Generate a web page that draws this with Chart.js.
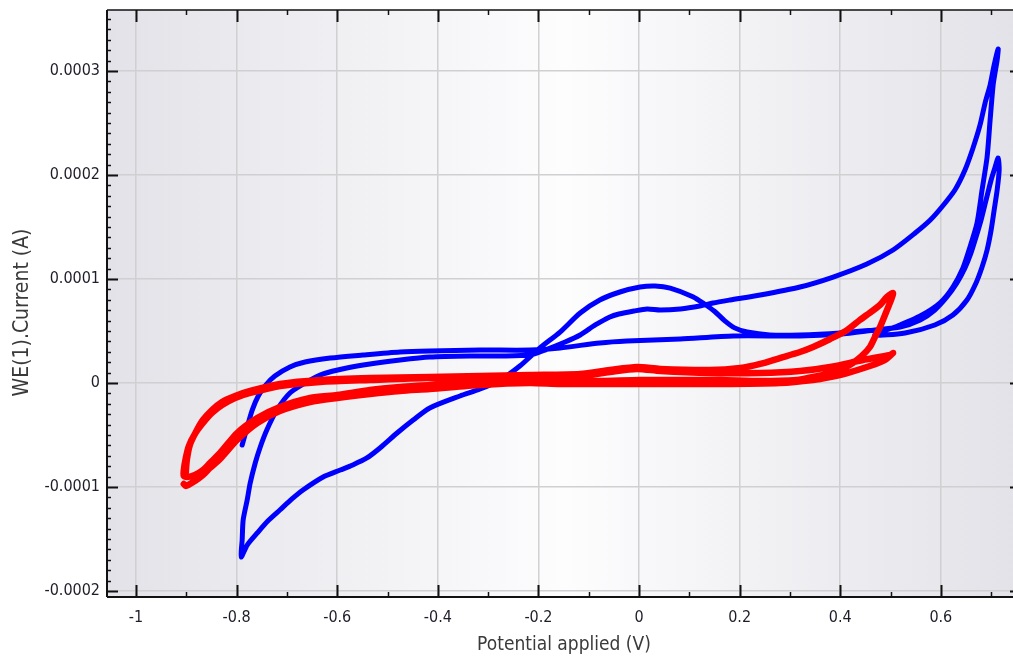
<!DOCTYPE html>
<html>
<head>
<meta charset="utf-8">
<script src="https://cdn.jsdelivr.net/npm/chart.js@4.4.1/dist/chart.umd.min.js"></script>
<style>
  html, body { margin: 0; padding: 0; background: #fff; overflow: hidden; }
  #wrap { position: absolute; left: 0; top: 0; width: 1030px; height: 662px; }
</style>
</head>
<body>
<div id="wrap"><canvas id="cv"></canvas></div>
<script>
// axis ticks
const xTicks = [-1, -0.8, -0.6, -0.4, -0.2, 0, 0.2, 0.4, 0.6];
const xTickLabels = ["-1", "-0.8", "-0.6", "-0.4", "-0.2", "0", "0.2", "0.4", "0.6"];
const yTicks = [-0.0002, -0.0001, 0, 0.0001, 0.0002, 0.0003];
const yTickLabels = ["-0.0002", "-0.0001", "0", "0.0001", "0.0002", "0.0003"];

// blue scan: potential (V) / current (A), in path order
const blueVoltage = [
  -0.789, -0.779, -0.769, -0.757, -0.742, -0.724, -0.694, -0.664, -0.614, -0.549, -0.475,
  -0.416, -0.316, -0.217, -0.157, -0.078, -0.024, 0.082, 0.187, 0.320, 0.400, 0.469,
  0.519, 0.559, 0.588, 0.612, 0.632, 0.648, 0.660, 0.670, 0.680, 0.690, 0.700, 0.708, 0.714,
  0.716, 0.712, 0.706, 0.700, 0.692, 0.682, 0.670, 0.652, 0.624, 0.588, 0.529, 0.469,
  0.519, 0.559, 0.598, 0.624, 0.644, 0.658, 0.672, 0.682, 0.692, 0.698, 0.704, 0.708, 0.712, 0.714,
  0.706, 0.698, 0.688, 0.678, 0.664, 0.648, 0.628, 0.602, 0.579, 0.549, 0.505, 0.453, 0.386,
  0.320, 0.241, 0.181, 0.147,
  0.121, 0.082, 0.042, 0.016, -0.010, -0.040, -0.058, -0.087, -0.117, -0.147, -0.187, -0.217,
  -0.276, -0.336, -0.416, -0.475, -0.535, -0.581, -0.628, -0.660, -0.694, -0.720, -0.740,
  -0.753, -0.763, -0.773, -0.779, -0.787, -0.789, -0.791,
  -0.779, -0.759, -0.738, -0.714, -0.690, -0.668, -0.628, -0.594, -0.569, -0.541, -0.515,
  -0.481, -0.449, -0.416, -0.356, -0.316, -0.276, -0.237, -0.197, -0.157, -0.117, -0.078,
  -0.038, 0.002, 0.032, 0.062, 0.107, 0.130, 0.150, 0.170, 0.190, 0.215, 0.260, 0.320, 0.400, 0.469
];
const blueCurrent = [
  -5.96e-5, -4.23e-5, -2.60e-5, -1.25e-5, -0.19e-5, 0.67e-5, 1.54e-5, 2.02e-5, 2.40e-5, 2.69e-5, 2.98e-5,
  3.08e-5, 3.17e-5, 3.17e-5, 3.37e-5, 3.85e-5, 4.04e-5, 4.23e-5, 4.52e-5, 4.52e-5, 4.71e-5, 5.10e-5,
  5.38e-5, 6.06e-5, 7.02e-5, 8.27e-5, 9.62e-5, 11.06e-5, 12.50e-5, 14.04e-5, 15.67e-5, 17.60e-5, 19.52e-5, 20.77e-5, 21.63e-5,
  20.48e-5, 18.56e-5, 16.63e-5, 14.71e-5, 12.79e-5, 11.15e-5, 9.62e-5, 7.98e-5, 6.54e-5, 5.58e-5, 4.81e-5, 4.62e-5,
  5.58e-5, 6.44e-5, 7.69e-5, 9.23e-5, 11.06e-5, 13.08e-5, 15.38e-5, 18.56e-5, 21.73e-5, 25.29e-5, 28.65e-5, 29.90e-5, 31.06e-5, 32.12e-5,
  30.58e-5, 28.65e-5, 26.92e-5, 24.81e-5, 22.60e-5, 20.48e-5, 18.56e-5, 16.92e-5, 15.67e-5, 14.42e-5, 12.79e-5, 11.44e-5, 10.19e-5,
  9.23e-5, 8.46e-5, 7.98e-5, 7.69e-5,
  7.40e-5, 7.12e-5, 7.02e-5, 7.12e-5, 6.92e-5, 6.63e-5, 6.35e-5, 5.58e-5, 4.62e-5, 3.94e-5, 3.17e-5, 2.69e-5,
  2.60e-5, 2.60e-5, 2.50e-5, 2.21e-5, 1.83e-5, 1.44e-5, 0.87e-5, 0.10e-5, -0.96e-5, -2.60e-5, -4.52e-5,
  -6.15e-5, -7.69e-5, -9.62e-5, -11.25e-5, -13.17e-5, -15.10e-5, -16.73e-5,
  -15.58e-5, -14.42e-5, -13.27e-5, -12.21e-5, -11.15e-5, -10.29e-5, -9.04e-5, -8.37e-5, -7.88e-5, -7.21e-5, -6.25e-5,
  -4.81e-5, -3.56e-5, -2.40e-5, -1.25e-5, -0.58e-5, 0.29e-5, 1.63e-5, 3.37e-5, 4.90e-5, 6.73e-5, 7.98e-5,
  8.75e-5, 9.23e-5, 9.33e-5, 9.13e-5, 8.30e-5, 7.60e-5, 6.90e-5, 6.00e-5, 5.30e-5, 4.90e-5, 4.62e-5, 4.62e-5, 4.81e-5, 5.10e-5
];

// red scan: potential (V) / current (A), two cycles
const redVoltage = [
  -0.901, -0.899, -0.893, -0.881, -0.867, -0.849, -0.829, -0.803, -0.773, -0.714, -0.634, -0.535,
  -0.416, -0.316, -0.217, -0.117, -0.058, -0.004, 0.042, 0.141, 0.201, 0.241, 0.280, 0.320,
  0.346, 0.380, 0.414, 0.439, 0.453, 0.479, 0.493, 0.505,
  0.501, 0.493, 0.485, 0.479, 0.469, 0.459, 0.443, 0.425, 0.404, 0.380, 0.346, 0.314, 0.241,
  0.161, 0.082, 0.002, -0.078, -0.157, -0.217, -0.316, -0.416, -0.475, -0.535, -0.600, -0.654,
  -0.714, -0.759, -0.799, -0.833, -0.853, -0.867, -0.883, -0.899, -0.905,
  -0.905, -0.901, -0.895, -0.883, -0.867, -0.849, -0.829, -0.803, -0.773, -0.714, -0.634, -0.535,
  -0.416, -0.316, -0.217, -0.117, -0.058, -0.004, 0.042, 0.141, 0.241, 0.320, 0.380, 0.445, 0.499, 0.505,
  0.489, 0.459, 0.414, 0.380, 0.346, 0.280, 0.161, 0.002, -0.157, -0.217, -0.316, -0.416, -0.475,
  -0.535, -0.600, -0.654, -0.714, -0.759, -0.799, -0.833, -0.853, -0.867, -0.883, -0.901, -0.905
];
const redCurrent = [
  -8.56e-5, -7.40e-5, -5.96e-5, -4.71e-5, -3.56e-5, -2.60e-5, -1.83e-5, -1.25e-5, -0.77e-5, -0.10e-5, 0.29e-5, 0.48e-5,
  0.58e-5, 0.67e-5, 0.77e-5, 0.87e-5, 1.25e-5, 1.54e-5, 1.35e-5, 1.25e-5, 1.44e-5, 1.83e-5, 2.40e-5, 2.98e-5,
  3.46e-5, 4.23e-5, 5.10e-5, 6.06e-5, 6.54e-5, 7.50e-5, 8.27e-5, 8.65e-5,
  7.98e-5, 7.02e-5, 6.06e-5, 5.38e-5, 4.42e-5, 3.46e-5, 2.60e-5, 1.92e-5, 1.35e-5, 0.96e-5, 0.58e-5, 0.29e-5, 0.19e-5,
  0.29e-5, 0.29e-5, 0.29e-5, 0.19e-5, 0.19e-5, 0.29e-5, 0.19e-5, -0.19e-5, -0.38e-5, -0.67e-5, -1.15e-5, -1.44e-5,
  -2.31e-5, -3.37e-5, -4.81e-5, -6.73e-5, -7.69e-5, -8.37e-5, -8.85e-5, -9.04e-5, -8.94e-5,
  -8.37e-5, -7.21e-5, -6.06e-5, -4.90e-5, -3.85e-5, -2.88e-5, -2.12e-5, -1.44e-5, -0.96e-5, -0.29e-5, 0.10e-5, 0.29e-5,
  0.48e-5, 0.48e-5, 0.58e-5, 0.67e-5, 1.06e-5, 1.35e-5, 1.15e-5, 0.96e-5, 0.96e-5, 1.15e-5, 1.54e-5, 2.21e-5, 2.69e-5, 2.88e-5,
  2.21e-5, 1.63e-5, 0.96e-5, 0.58e-5, 0.29e-5, 0.00e-5, -0.10e-5, -0.10e-5, -0.10e-5, 0.00e-5, -0.19e-5, -0.58e-5, -0.77e-5,
  -1.06e-5, -1.44e-5, -1.83e-5, -2.69e-5, -3.85e-5, -5.48e-5, -7.31e-5, -8.17e-5, -8.85e-5, -9.42e-5, -9.90e-5, -9.71e-5
];

const toPoints = (xs, ys) => xs.map((v, i) => ({ x: v, y: ys[i] }));

// background gradient + inward tick marks and frame
const plotFrame = {
  id: "plotFrame",
  beforeDraw (chart) {
    const { ctx, chartArea: a } = chart;
    const g = ctx.createLinearGradient(a.left, 0, a.right, 0);
    g.addColorStop(0, "#e2e2e8");
    g.addColorStop(0.5, "#fdfdfe");
    g.addColorStop(1, "#e2e2e8");
    ctx.save();
    ctx.fillStyle = g;
    ctx.fillRect(a.left, a.top, a.right - a.left, a.bottom - a.top);
    ctx.restore();
  },
  afterDraw (chart) {
    const { ctx, chartArea: a, scales } = chart;
    const xs = scales.x, ys = scales.y;
    const line = (x1, y1, x2, y2, w) => {
      ctx.lineWidth = w;
      ctx.beginPath();
      ctx.moveTo(x1, y1);
      ctx.lineTo(x2, y2);
      ctx.stroke();
    };
    ctx.save();
    ctx.strokeStyle = "#111";
    for (let k = Math.ceil(xs.min / 0.1); k * 0.1 <= xs.max; k++) {
      const px = Math.round(xs.getPixelForValue(k * 0.1)) + 0.5;
      const major = k % 2 === 0;
      const len = major ? 12 : 5;
      line(px, a.bottom, px, a.bottom - len, major ? 2 : 1.5);
      line(px, a.top, px, a.top + len, major ? 2 : 1.5);
    }
    for (let k = Math.ceil(ys.min / 1e-5); k * 1e-5 <= ys.max; k++) {
      const py = Math.round(ys.getPixelForValue(k * 1e-5)) + 0.5;
      const major = k % 10 === 0;
      const len = major ? 11 : 4;
      line(a.left, py, a.left + len, py, major ? 2 : 1.5);
      line(a.right, py, a.right - len, py, major ? 2 : 1.5);
    }
    line(a.left, a.top, a.right, a.top, 1.5);
    line(a.left, a.bottom, a.right, a.bottom, 2);
    line(a.left, a.top, a.left, a.bottom, 2);
    line(a.right, a.top, a.right, a.bottom, 2);
    ctx.restore();
  }
};

const labelFont = "'DejaVu Sans Condensed', 'DejaVu Sans', sans-serif";
Chart.defaults.font.family = labelFont;

new Chart(document.getElementById("cv"), {
  type: "scatter",
  data: {
    datasets: [
      {
        label: "red",
        data: toPoints(redVoltage, redCurrent),
        showLine: true,
        borderColor: "#ff0000",
        backgroundColor: "#ff0000",
        borderWidth: 6.5,
        pointRadius: 0,
        tension: 0.25,
        borderJoinStyle: "round",
        borderCapStyle: "round",
        order: 0
      },
      {
        label: "blue",
        data: toPoints(blueVoltage, blueCurrent),
        showLine: true,
        borderColor: "#0000ff",
        backgroundColor: "#0000ff",
        borderWidth: 5,
        pointRadius: 0,
        tension: 0.25,
        borderJoinStyle: "round",
        borderCapStyle: "round",
        order: 1
      }
    ]
  },
  options: {
    responsive: true,
    maintainAspectRatio: false,
    animation: false,
    layout: { padding: { top: 10, right: 9, left: 0, bottom: 0 } },
    plugins: {
      legend: { display: false },
      tooltip: { enabled: false }
    },
    scales: {
      x: {
        type: "linear",
        min: -1.0577,
        max: 0.7594,
        afterBuildTicks: (s) => { s.ticks = xTicks.map((v) => ({ value: v })); },
        afterFit: (s) => { s.height = 65; s.paddingLeft = 0; s.paddingRight = 0; },
        grid: { color: "#d0d0d2", lineWidth: 1.5, drawTicks: false },
        border: { display: false },
        ticks: {
          callback: (v, i) => xTickLabels[i],
          color: "#1e1e2a",
          font: { size: 16 },
          padding: 11,
          maxRotation: 0,
          autoSkip: false
        },
        title: {
          display: true,
          text: "Potential applied (V)",
          color: "#3a3a3a",
          font: { size: 19 },
          padding: { top: 0, bottom: 6 }
        }
      },
      y: {
        type: "linear",
        min: -0.00020577,
        max: 0.00035865,
        afterBuildTicks: (s) => { s.ticks = yTicks.map((v) => ({ value: v })); },
        afterFit: (s) => { s.width = 107; s.paddingTop = 0; s.paddingBottom = 0; },
        grid: { color: "#d0d0d2", lineWidth: 1.5, drawTicks: false },
        border: { display: false },
        ticks: {
          callback: (v, i) => yTickLabels[i],
          color: "#1e1e2a",
          font: { size: 16 },
          padding: 7,
          autoSkip: false
        },
        title: {
          display: true,
          // trailing spaces nudge the rotated title a little lower, like the original
          text: "WE(1).Current (A)   ",
          color: "#3a3a3a",
          font: { size: 21 },
          padding: { top: 10, bottom: 0 }
        }
      }
    }
  },
  plugins: [plotFrame]
});
</script>
</body>
</html>
